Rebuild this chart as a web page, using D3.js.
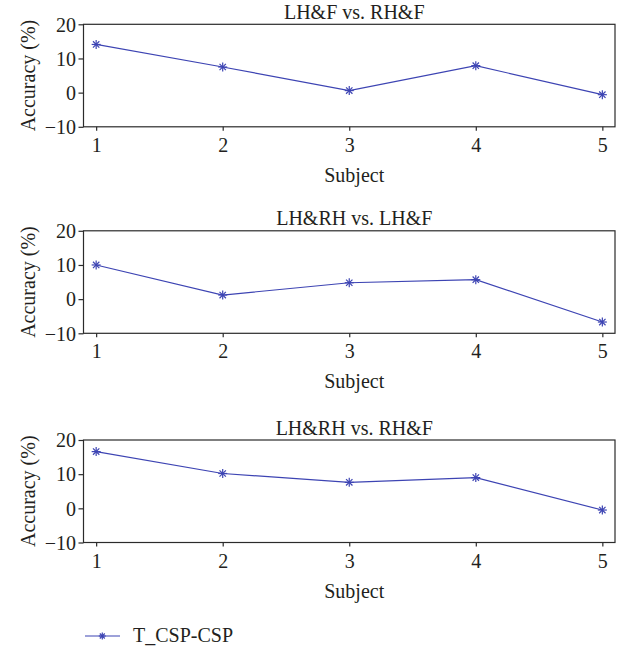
<!DOCTYPE html>
<html>
<head>
<meta charset="utf-8">
<script src="https://cdn.jsdelivr.net/npm/d3@7/dist/d3.min.js"></script>
<style>
  html, body { margin: 0; padding: 0; background: #fff; }
  svg { display: block; }
  text { font-family: "Liberation Serif", "DejaVu Serif", serif; fill: #231f20; }
</style>
</head>
<body>
<svg id="chart" width="633" height="650"></svg>
<script>
const subjects = [1, 2, 3, 4, 5];
const panelTitles = ["LH&F vs. RH&F", "LH&RH vs. LH&F", "LH&RH vs. RH&F"];
const seriesLHF_RHF = [14.1, 7.5, 0.6, 7.9, -0.6];
const seriesLHRH_LHF = [10.0, 1.2, 4.8, 5.7, -6.7];
const seriesLHRH_RHF = [16.6, 10.2, 7.6, 9.0, -0.5];
const yTicks = [-10, 0, 10, 20];
const seriesName = "T_CSP-CSP";
const xLabel = "Subject";
const yLabel = "Accuracy (%)";

const panels = [seriesLHF_RHF, seriesLHRH_LHF, seriesLHRH_RHF];
const color = "#3d44b3";
const axisColor = "#2b2b2b";
const fs = "20px";

const svg = d3.select("#chart");
const left = 83.5, right = 615, ph = 102.5;
const tops = [24.3, 230.8, 440];

const x = d3.scaleLinear().domain([0.9, 5.1]).range([left, right]);

function star(g, cx, cy, r) {
  const s = g.append("g").attr("transform", `translate(${cx},${cy})`);
  [0, 45, 90, 135].forEach(a => {
    const rad = a * Math.PI / 180;
    s.append("line")
      .attr("x1", -r * Math.cos(rad)).attr("y1", -r * Math.sin(rad))
      .attr("x2", r * Math.cos(rad)).attr("y2", r * Math.sin(rad))
      .attr("stroke", color).attr("stroke-width", 1.2);
  });
}

panels.forEach((vals, i) => {
  const top = tops[i];
  const y = d3.scaleLinear().domain([-10, 20]).range([top + ph, top]);
  const g = svg.append("g");

  g.append("rect")
    .attr("x", left).attr("y", top)
    .attr("width", right - left).attr("height", ph)
    .attr("fill", "none").attr("stroke", axisColor).attr("stroke-width", 1.2);

  const ya = g.append("g").attr("transform", `translate(${left},0)`)
    .call(d3.axisLeft(y).tickValues(yTicks).tickSize(5).tickPadding(2.5)
      .tickFormat(d => d < 0 ? "\u2212" + Math.abs(d) : d));
  ya.select(".domain").remove();
  ya.selectAll("line").attr("stroke", axisColor).attr("stroke-width", 1.2);
  ya.selectAll("text").style("font-size", fs).attr("dy", "0.34em").attr("fill", "#231f20");

  const xa = g.append("g").attr("transform", `translate(0,${top + ph})`)
    .call(d3.axisBottom(x).tickValues(subjects).tickSize(4).tickPadding(7).tickFormat(d3.format("d")));
  xa.select(".domain").remove();
  xa.selectAll("line").attr("stroke", axisColor).attr("stroke-width", 1.2);
  xa.selectAll("text").style("font-size", fs).attr("fill", "#231f20");

  g.append("text").attr("x", (left + right) / 2 + 5).attr("y", top - 5.5)
    .attr("text-anchor", "middle").style("font-size", fs).text(panelTitles[i]);

  g.append("text").attr("x", (left + right) / 2 + 5).attr("y", top + ph + 55)
    .attr("text-anchor", "middle").style("font-size", fs).text(xLabel);

  g.append("text")
    .attr("transform", `translate(35,${top + ph / 2}) rotate(-90)`)
    .attr("text-anchor", "middle").style("font-size", fs).text(yLabel);

  const line = d3.line().x((d, j) => x(subjects[j])).y(d => y(d));
  g.append("path").datum(vals).attr("d", line)
    .attr("fill", "none").attr("stroke", color).attr("stroke-width", 1.2);

  vals.forEach((v, j) => star(g, x(subjects[j]), y(v), 4.5));
});

const lg = svg.append("g");
lg.append("line").attr("x1", 85).attr("x2", 120).attr("y1", 636).attr("y2", 636)
  .attr("stroke", color).attr("stroke-width", 1.2);
star(lg, 102.3, 636, 3.5);
lg.append("text").attr("x", 133).attr("y", 641.7).style("font-size", fs).text(seriesName);
</script>
</body>
</html>
